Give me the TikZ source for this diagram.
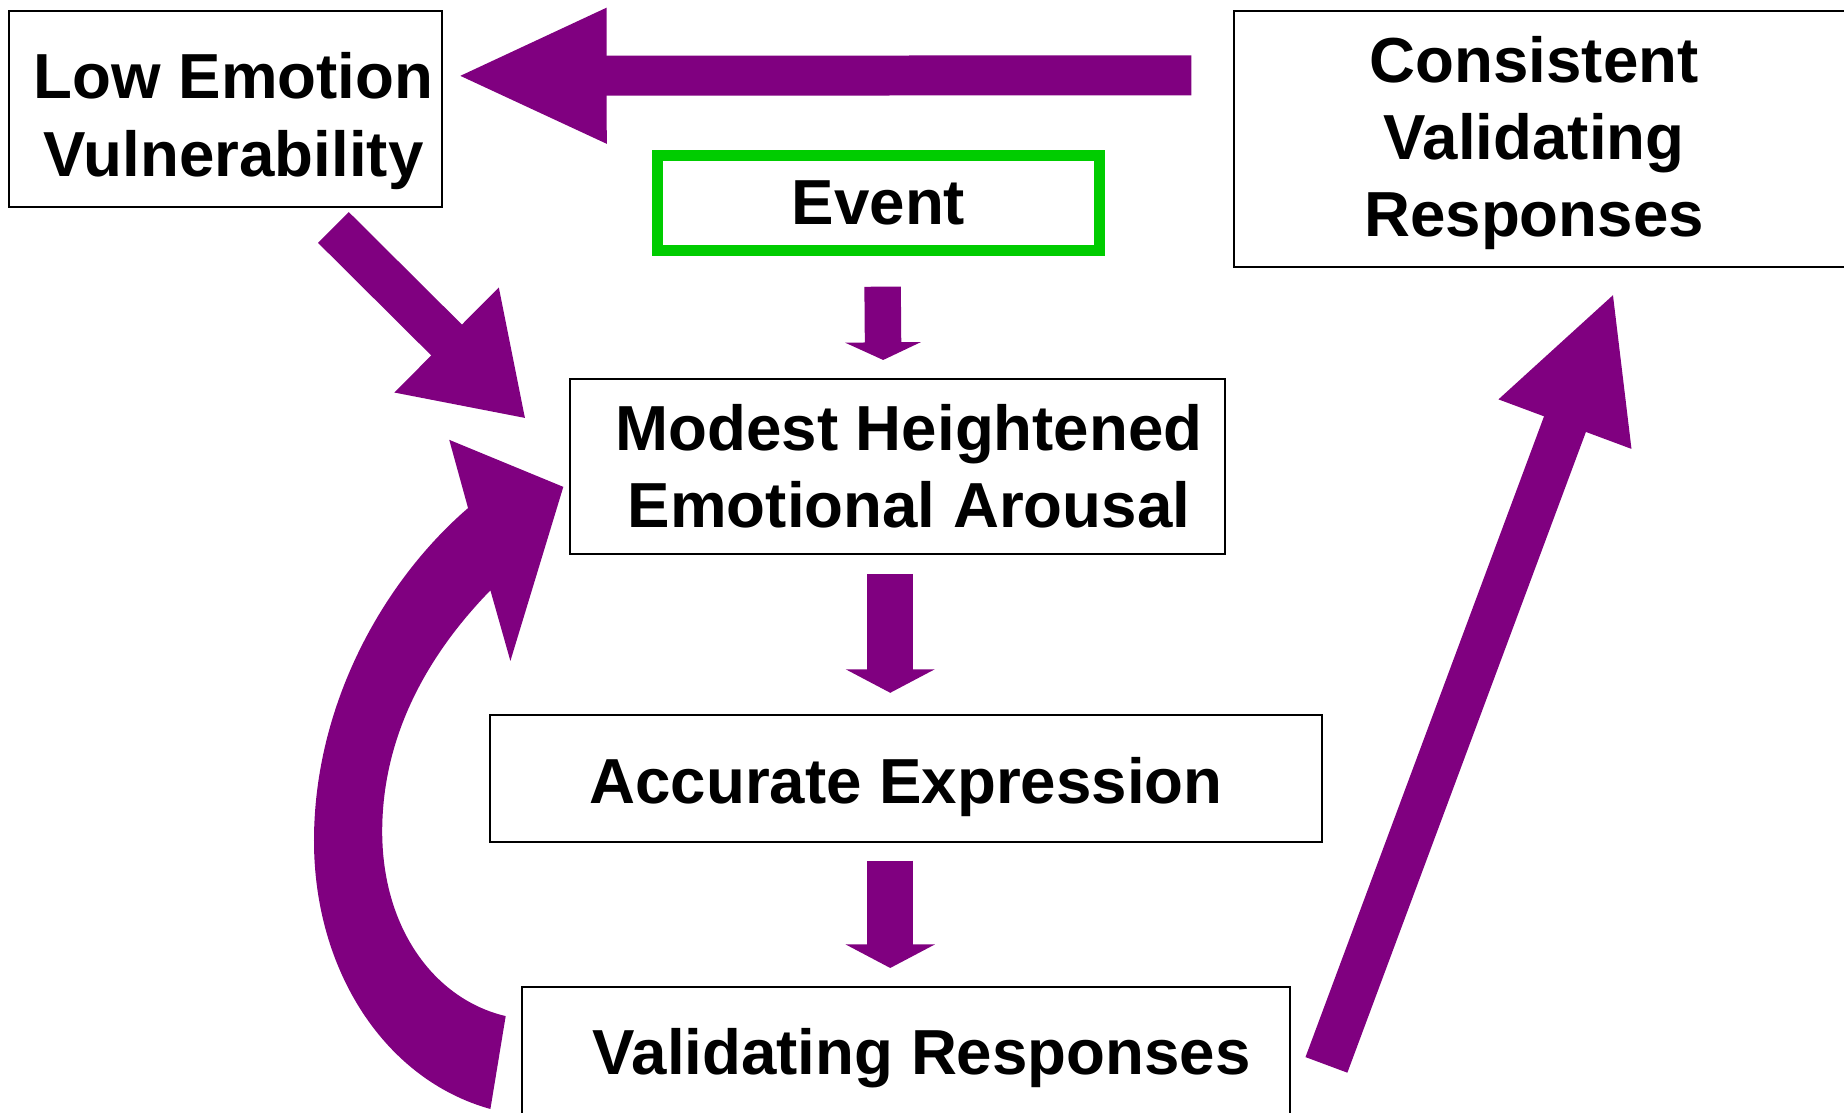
\documentclass[tikz,border=0pt]{standalone}
\usepackage{fontspec}
\setmainfont{Liberation Sans}
\usetikzlibrary{arrows.meta}
\definecolor{arrowpurple}{RGB}{128,0,128}
\definecolor{eventgreen}{RGB}{0,204,0}
\tikzset{
  box/.style={draw, line width=0.18mm, inner sep=0pt},
  txt/.style={font=\bfseries\fontsize{15.4pt}{18.7pt}\selectfont, align=center},
  flow/.style n args={3}{draw=arrowpurple, line width=#1, -{Triangle[width=#2,length=#3]}}
}

\begin{document}
\begin{tikzpicture}[x=0.1mm, y=-0.1mm]
\useasboundingbox (0,0) rectangle (1568,946);
% the boxes
\node[box, minimum width=36.8mm, minimum height=16.7mm,
  label={[txt, xshift=0.67mm, yshift=-1.04mm]center:Low Emotion\\Vulnerability}] (low) at (192,92.5) {};
\node[box, minimum width=55.1mm, minimum height=21.8mm,
  label={[txt, xshift=-2mm, yshift=-0.38mm]center:Consistent\\Validating\\Responses}] (cons) at (1324.5,118) {};
\node[box, draw=eventgreen, line width=0.95mm, minimum width=37.6mm, minimum height=8.1mm, txt] (event) at (747,172.5) {Event};
\node[box, minimum width=55.7mm, minimum height=14.9mm,
  label={[txt, xshift=0.95mm]center:Modest Heightened\\Emotional Arousal}] (modest) at (763.5,396.5) {};
\node[box, minimum width=70.7mm, minimum height=10.8mm,
  label={[txt, yshift=-0.73mm]center:Accurate Expression}] (accurate) at (770.5,662) {};
\node[box, minimum width=65.3mm, minimum height=12.2mm,
  label={[txt, xshift=1.32mm]center:Validating Responses}] (valid) at (770.5,900) {};

% block arrows
\begin{scope}
\draw[flow={3.4mm}{10.5mm}{12.9mm}] ([shift={(-3.5mm,5.4mm)}]cons.west) -- ([shift={(1.0mm,2.8mm)}]low.east);
\draw[flow={3.7mm}{11.9mm}{9.5mm}] ([shift={(9.15mm,-1.65mm)}]low.south) -- ([shift={(-3.7mm,-3.5mm)}]modest.north west);
\draw[flow={3.1mm}{6.4mm}{1.5mm}] ([shift={(0.35mm,-2.6mm)}]event.south) -- ([shift={(-1.25mm,1.5mm)}]modest.north);
\draw[flow={3.9mm}{7.5mm}{2mm}] ([shift={(-0.65mm,-1.6mm)}]modest.south) -- ([shift={(-1.35mm,1.8mm)}]accurate.north);
\draw[flow={3.9mm}{7.5mm}{2mm}] ([shift={(-1.35mm,-1.5mm)}]accurate.south) -- ([shift={(-1.35mm,1.5mm)}]valid.north);
\draw[flow={3.8mm}{11.1mm}{12mm}] ([shift={(3mm,-0.55mm)}]valid.east) -- ([shift={(32.45mm,-2.03mm)}]cons.south west);
\end{scope}

% curved arrow back up to the arousal box
\fill[arrowpurple] (417,943) .. controls (327,918) and (267,825) .. (267,715)
  .. controls (267,600) and (325,495) .. (398,432)
  -- (382,374) -- (479,414) -- (434,562) -- (417,502)
  .. controls (380,540) and (325,610) .. (325,707)
  .. controls (325,790) and (370,850) .. (430,864) -- cycle;
\end{tikzpicture}
\end{document}
